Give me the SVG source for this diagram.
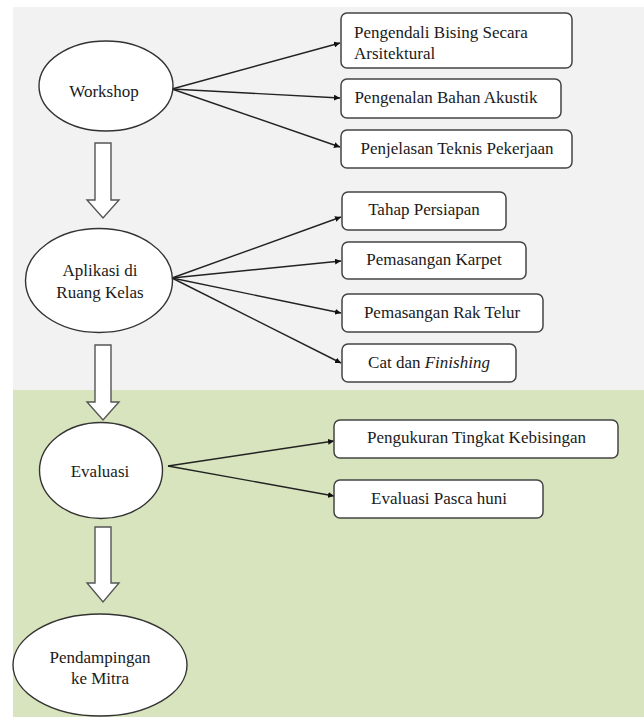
<svg xmlns="http://www.w3.org/2000/svg" width="644" height="717" viewBox="0 0 644 717">
<defs>
<marker id="ah" viewBox="0 0 10 10" refX="10" refY="5" markerWidth="6" markerHeight="6" markerUnits="userSpaceOnUse" orient="auto">
<path d="M0,0 L10,5 L0,10 Z" fill="#111111"/>
</marker>
</defs>
<rect width="644" height="717" fill="#ffffff"/>
<rect x="13" y="7" width="631" height="383" fill="#f2f2f2"/>
<rect x="13" y="390" width="631" height="327" fill="#d7e4bd"/>

<g id="connectors" fill="none" stroke="#222222" stroke-width="1.4">
<line marker-end="url(#ah)" x1="172" y1="89" x2="340" y2="43"/>
<line marker-end="url(#ah)" x1="172" y1="89" x2="340" y2="98"/>
<line marker-end="url(#ah)" x1="172" y1="89" x2="340" y2="147"/>
<line marker-end="url(#ah)" x1="172" y1="278" x2="341" y2="217"/>
<line marker-end="url(#ah)" x1="172" y1="278" x2="341" y2="261"/>
<line marker-end="url(#ah)" x1="172" y1="278" x2="341" y2="313"/>
<line marker-end="url(#ah)" x1="172" y1="278" x2="341" y2="363"/>
<line marker-end="url(#ah)" x1="168" y1="466" x2="334" y2="441"/>
<line marker-end="url(#ah)" x1="168" y1="466" x2="334" y2="496"/>
<g fill="#ffffff" stroke="#555555">
<path d="M95,143 L111,143 L111,200 L119,200 L103,218 L87,200 L95,200 Z"/>
<path d="M95,345 L111,345 L111,402 L119,402 L103,420 L87,402 L95,402 Z"/>
<path d="M95,527 L111,527 L111,583 L119,583 L103,602 L87,583 L95,583 Z"/>
</g>
</g>

<g id="workshop">
<ellipse cx="106" cy="86" rx="67" ry="45" fill="#ffffff" stroke="#333333" stroke-width="1.4"/>
<text x="104" y="97" font-family="Liberation Serif" font-size="17" fill="#1a1a1a" text-anchor="middle">Workshop</text>
</g>
<g id="aplikasi">
<ellipse cx="99" cy="280.5" rx="73.5" ry="52" fill="#ffffff" stroke="#333333" stroke-width="1.4"/>
<text x="100" y="276" font-family="Liberation Serif" font-size="17" fill="#1a1a1a" text-anchor="middle">Aplikasi di</text>
<text x="100" y="298" font-family="Liberation Serif" font-size="17" fill="#1a1a1a" text-anchor="middle">Ruang Kelas</text>
</g>
<g id="evaluasi">
<ellipse cx="101" cy="470.5" rx="61.5" ry="48" fill="#ffffff" stroke="#333333" stroke-width="1.4"/>
<text x="100" y="477" font-family="Liberation Serif" font-size="17" fill="#1a1a1a" text-anchor="middle">Evaluasi</text>
</g>
<g id="pendampingan">
<ellipse cx="100" cy="665" rx="87" ry="51" fill="#ffffff" stroke="#333333" stroke-width="1.4"/>
<text x="100" y="663" font-family="Liberation Serif" font-size="17" fill="#1a1a1a" text-anchor="middle">Pendampingan</text>
<text x="100" y="684" font-family="Liberation Serif" font-size="17" fill="#1a1a1a" text-anchor="middle">ke Mitra</text>
</g>

<g id="box-pengendali">
<rect x="341" y="13" width="231" height="55" rx="6" fill="#ffffff" stroke="#444444" stroke-width="1.5"/>
<text x="354" y="37.5" font-family="Liberation Serif" font-size="17" fill="#1a1a1a">Pengendali Bising Secara</text>
<text x="354" y="59" font-family="Liberation Serif" font-size="17" fill="#1a1a1a">Arsitektural</text>
</g>
<g id="box-pengenalan">
<rect x="341" y="79" width="220" height="39" rx="6" fill="#ffffff" stroke="#444444" stroke-width="1.5"/>
<text x="446" y="102.5" font-family="Liberation Serif" font-size="17" fill="#1a1a1a" text-anchor="middle">Pengenalan Bahan Akustik</text>
</g>
<g id="box-penjelasan">
<rect x="341" y="130" width="231" height="38" rx="6" fill="#ffffff" stroke="#444444" stroke-width="1.5"/>
<text x="457" y="154" font-family="Liberation Serif" font-size="17" fill="#1a1a1a" text-anchor="middle">Penjelasan Teknis Pekerjaan</text>
</g>
<g id="box-tahap">
<rect x="342" y="192" width="164" height="38" rx="6" fill="#ffffff" stroke="#444444" stroke-width="1.5"/>
<text x="424" y="215" font-family="Liberation Serif" font-size="17" fill="#1a1a1a" text-anchor="middle">Tahap Persiapan</text>
</g>
<g id="box-karpet">
<rect x="342" y="242" width="184" height="37" rx="6" fill="#ffffff" stroke="#444444" stroke-width="1.5"/>
<text x="434" y="265" font-family="Liberation Serif" font-size="17" fill="#1a1a1a" text-anchor="middle">Pemasangan Karpet</text>
</g>
<g id="box-rak">
<rect x="342" y="294" width="201" height="38" rx="6" fill="#ffffff" stroke="#444444" stroke-width="1.5"/>
<text x="442" y="317.5" font-family="Liberation Serif" font-size="17" fill="#1a1a1a" text-anchor="middle">Pemasangan Rak Telur</text>
</g>
<g id="box-cat">
<rect x="342" y="344" width="174" height="38" rx="6" fill="#ffffff" stroke="#444444" stroke-width="1.5"/>
<text x="429" y="367.5" font-family="Liberation Serif" font-size="17" fill="#1a1a1a" text-anchor="middle">Cat dan <tspan font-style="italic">Finishing</tspan></text>
</g>
<g id="box-pengukuran">
<rect x="334" y="420" width="284" height="38" rx="6" fill="#ffffff" stroke="#444444" stroke-width="1.5"/>
<text x="476.5" y="443" font-family="Liberation Serif" font-size="17" fill="#1a1a1a" text-anchor="middle">Pengukuran Tingkat Kebisingan</text>
</g>
<g id="box-pasca">
<rect x="334" y="480" width="209" height="38" rx="6" fill="#ffffff" stroke="#444444" stroke-width="1.5"/>
<text x="439" y="504" font-family="Liberation Serif" font-size="17" fill="#1a1a1a" text-anchor="middle">Evaluasi Pasca huni</text>
</g>
</svg>
